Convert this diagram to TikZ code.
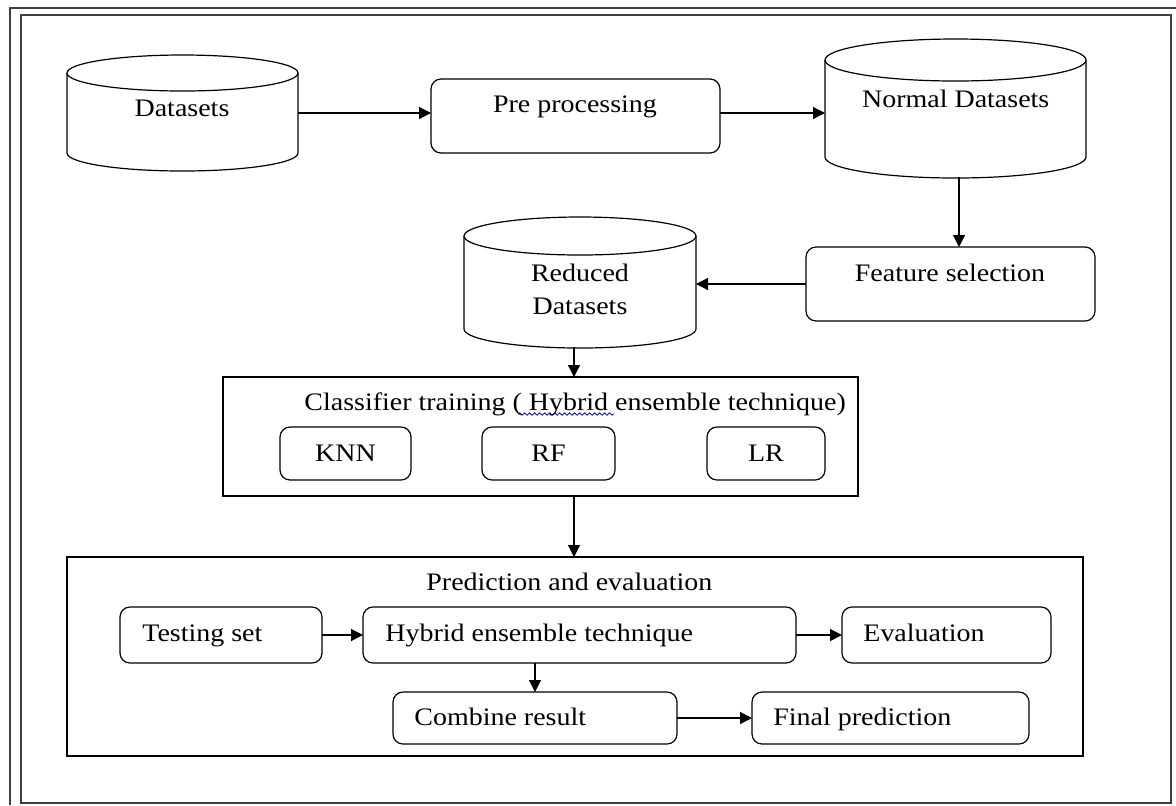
\documentclass[tikz,border=0pt]{standalone}
\usepackage{fontspec}
\setmainfont{Liberation Serif}[FakeStretch=1.11]
\usetikzlibrary{arrows.meta,decorations.pathmorphing}
\begin{document}
\begin{tikzpicture}[x=0.5pt,y=-0.5pt,
  every node/.style={font=\fontsize{12.6pt}{15pt}\selectfont},
  frame/.style={draw=black!75,line width=1pt},
  cyl/.style={draw,line width=0.6pt},
  body/.style={draw=none,inner sep=0pt,outer sep=0pt},
  rbox/.style={draw,line width=0.6pt,rounded corners=5pt,inner sep=0pt,outer sep=0pt},
  sbox/.style={draw,line width=0.6pt,inner sep=0pt,outer sep=0pt},
  txt/.style={inner sep=0pt,anchor=base},
  ltxt/.style={inner sep=0pt,anchor=base west},
  arr/.style={line width=0.6pt,-{Triangle[length=6pt,width=6pt]}}]
\useasboundingbox (0,0) rectangle (1176,805);
% frames
\draw[frame] (10,805) -- (10,8) -- (1176,8);
\draw[frame] (21,15) rectangle (1171,803);

% cylinders (bodies)
\node[body,minimum width=115.5pt,minimum height=40pt] (ds) at (182.5,113) {};
\draw[cyl] (ds.north west) -- (ds.south west) arc[start angle=180,end angle=360,x radius=57.75pt,y radius=9pt] -- (ds.north east);
\draw[cyl] (ds.north) ellipse[x radius=57.75pt,y radius=9pt];
\node[txt] (dsT) at (182,116.7) {Datasets};

\node[body,minimum width=130.5pt,minimum height=48.5pt] (nd) at (955.5,108.5) {};
\draw[cyl] (nd.north west) -- (nd.south west) arc[start angle=180,end angle=360,x radius=65.25pt,y radius=10.5pt] -- (nd.north east);
\draw[cyl] (nd.north) ellipse[x radius=65.25pt,y radius=10.5pt];
\node[txt] (ndT) at (955.7,107.3) {Normal Datasets};

\node[body,minimum width=116pt,minimum height=46.5pt] (rd) at (580,282.5) {};
\draw[cyl] (rd.north west) -- (rd.south west) arc[start angle=180,end angle=360,x radius=58pt,y radius=9.5pt] -- (rd.north east);
\draw[cyl] (rd.north) ellipse[x radius=58pt,y radius=9.5pt];
\node[txt] (rdT1) at (580,281.7) {Reduced};
\node[txt] (rdT2) at (580,314.3) {Datasets};

% boxes top
\node[rbox,minimum width=144.5pt,minimum height=37pt] (pp) at (575.5,116) {};
\node[txt] (ppT) at (575,112.7) {Pre processing};
\node[rbox,minimum width=144.5pt,minimum height=37pt] (fs) at (950.5,284) {};
\node[txt] (fsT) at (950,281) {Feature selection};

% classifier
\node[sbox,minimum width=317.5pt,minimum height=59.5pt] (ct) at (540.5,436.5) {};
\node[ltxt] (ctT) at (304,410) {Classifier training ( Hybrid ensemble technique)};
\draw[blue!70!black,line width=0.4pt,decorate,decoration={snake,amplitude=0.6pt,segment length=2.5pt}] (518,414) -- (614,414);
\node[rbox,minimum width=65.5pt,minimum height=26.5pt] (knn) at (345.5,453.5) {KNN};
\node[rbox,minimum width=66.5pt,minimum height=26.5pt] (rf) at (548.5,453.5) {RF};
\node[rbox,minimum width=59pt,minimum height=26.5pt] (lr) at (766,453.5) {LR};

% prediction
\node[sbox,minimum width=508pt,minimum height=99.5pt] (pe) at (575,656.5) {};
\node[ltxt] (peT) at (426,590) {Prediction and evaluation};
\node[rbox,minimum width=101pt,minimum height=28pt] (ts) at (221,635) {};
\node[ltxt] (tsT) at (142,641.7) {Testing set};
\node[rbox,minimum width=216.5pt,minimum height=28pt] (hy) at (579.5,635) {};
\node[ltxt] (hyT) at (385,641.7) {Hybrid ensemble technique};
\node[rbox,minimum width=104.5pt,minimum height=28pt] (ev) at (946.5,635) {};
\node[ltxt] (evT) at (863,641.7) {Evaluation};
\node[rbox,minimum width=142pt,minimum height=26pt] (cr) at (535,718) {};
\node[ltxt] (crT) at (414,725) {Combine result};
\node[rbox,minimum width=138.5pt,minimum height=26pt] (fp) at (890.5,718) {};
\node[ltxt] (fpT) at (773,725) {Final prediction};

% connectors
\coordinate (ndb) at (959,177);
\coordinate (rdb) at (574,347);
\draw[arr] (ds.east) -- (ds.east -| pp.west);
\draw[arr] (ds.east -| pp.east) -- (ds.east -| nd.west);
\draw[arr] (ndb) -- (ndb |- fs.north);
\draw[arr] (fs.west) -- (fs.west -| rd.east);
\draw[arr] (rdb) -- (rdb |- ct.north);
\draw[arr] (ct.south -| rdb) -- (pe.north -| rdb);
\draw[arr] (ts.east) -- (hy.west);
\draw[arr] (hy.east) -- (ev.west);
\draw[arr] (cr.north |- hy.south) -- (cr.north);
\draw[arr] (cr.east) -- (fp.west);
\end{tikzpicture}
\end{document}
